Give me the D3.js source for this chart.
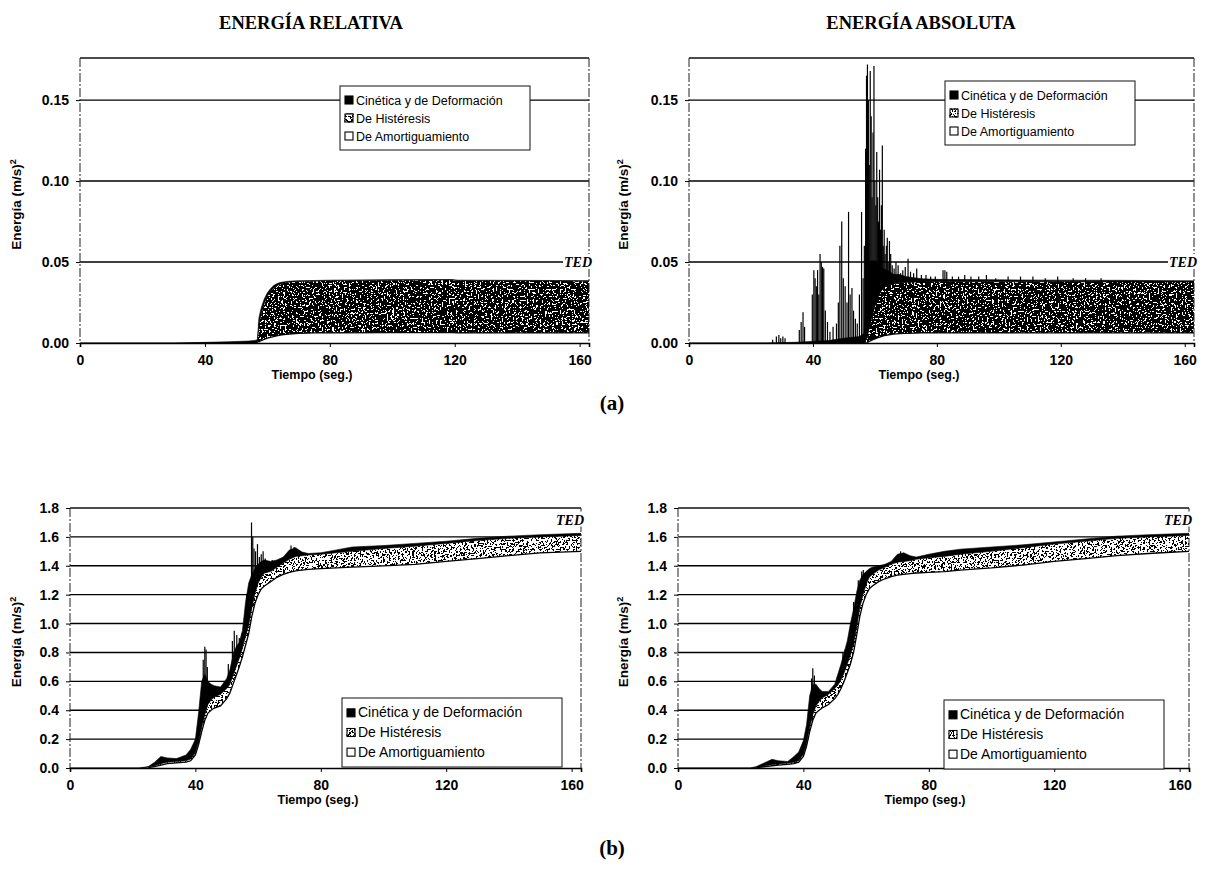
<!DOCTYPE html>
<html>
<head>
<meta charset="utf-8">
<script src="https://cdn.jsdelivr.net/npm/d3@7"></script>
<style>
  body { margin: 0; background: #fff; }
  svg { display: block; }
</style>
</head>
<body>
<svg id="fig" width="1223" height="888"></svg>
<script>
// ---------- shared tick labels and legend ----------
const xTicks = [0, 40, 80, 120, 160];
const yTicksA = [0, 0.05, 0.10, 0.15];
const yTicksB = [0, 0.2, 0.4, 0.6, 0.8, 1.0, 1.2, 1.4, 1.6, 1.8];
const seriesNames = ["Cinética y de Deformación", "De Histéresis", "De Amortiguamiento"];

// ---------- (a) energía relativa, (m/s)^2 ----------
const tRelA     = [0, 30, 40, 48, 54, 56, 56.8, 57.3, 58, 59, 60, 61, 62, 63, 64, 66, 68, 70, 75, 80, 100, 119, 121, 140, 163];
const relAmortA = [0, 0, 0, 0, 0, 0, 0, 0.0006, 0.0015, 0.0022, 0.003, 0.0035, 0.004, 0.0044, 0.0048, 0.0053, 0.0057, 0.006, 0.0062, 0.0063, 0.0064, 0.0064, 0.0062, 0.0062, 0.0062];
const relHistA  = [0, 0, 0, 0, 0, 0, 0, 0.011, 0.016, 0.022, 0.026, 0.028, 0.030, 0.031, 0.0315, 0.032, 0.032, 0.032, 0.032, 0.0322, 0.0324, 0.0325, 0.0323, 0.0322, 0.032];
const relCinA   = [0, 0, 0.0004, 0.0008, 0.0012, 0.0016, 0.002, 0.004, 0.004, 0.003, 0.002, 0.002, 0.0015, 0.0012, 0.001, 0.0007, 0.0006, 0.0005, 0.0004, 0.0003, 0.0003, 0.0003, 0.0003, 0.0003, 0.0003];

// ---------- (a) energía absoluta, (m/s)^2 ----------
const tAbsA     = [0, 25, 35, 45, 50, 55, 56.5, 57.5, 58, 59, 60, 61, 62, 63, 64, 66, 68, 70, 75, 80, 100, 120, 140, 163];
const absAmortA = [0, 0, 0, 0, 0, 0, 0, 0.0003, 0.0008, 0.0018, 0.0026, 0.0033, 0.004, 0.0045, 0.0049, 0.0055, 0.0058, 0.006, 0.0062, 0.0062, 0.0062, 0.0062, 0.0062, 0.0062];
const absHistA  = [0, 0, 0, 0, 0, 0, 0, 0.003, 0.007, 0.014, 0.02, 0.025, 0.028, 0.03, 0.031, 0.031, 0.0315, 0.0315, 0.0315, 0.0316, 0.0316, 0.0316, 0.0315, 0.0314];
const absCinA   = [0, 0, 0.0005, 0.0015, 0.003, 0.004, 0.006, 0.03, 0.04, 0.035, 0.028, 0.02, 0.015, 0.011, 0.009, 0.006, 0.005, 0.0035, 0.002, 0.0015, 0.0012, 0.001, 0.001, 0.0008];
// kinetic peaks [time (s), total energy]
const absPeaksA = [
  [27, 0.002], [28.2, 0.004], [29, 0.005], [29.6, 0.003], [30.3, 0.004], [31, 0.003],
  [35.6, 0.008], [36.2, 0.013], [36.8, 0.019], [37.3, 0.01],
  [39.8, 0.03], [40.3, 0.045], [40.7, 0.04], [41.1, 0.035], [41.5, 0.045], [41.9, 0.03],
  [42.3, 0.055], [42.7, 0.05], [43.1, 0.047], [43.5, 0.046], [44.0, 0.02], [44.7, 0.013],
  [45.5, 0.007], [46.5, 0.01], [47.6, 0.012], [48.2, 0.025], [48.7, 0.06], [49.3, 0.075],
  [49.8, 0.04], [50.4, 0.035], [51.0, 0.025], [51.5, 0.081], [52.0, 0.03], [52.6, 0.034],
  [53.1, 0.02], [53.7, 0.015], [54.3, 0.012], [55.0, 0.03], [55.7, 0.081], [56.2, 0.04],
  [56.6, 0.06], [57.0, 0.12], [57.3, 0.165], [57.6, 0.172], [57.9, 0.15], [58.2, 0.11],
  [58.5, 0.168], [58.8, 0.14], [59.1, 0.09], [59.4, 0.13], [59.7, 0.171], [60.0, 0.1],
  [60.3, 0.085], [60.6, 0.118], [60.9, 0.09], [61.2, 0.075], [61.5, 0.107], [61.8, 0.07],
  [62.1, 0.085], [62.4, 0.122], [62.7, 0.06], [63.0, 0.07], [63.3, 0.055], [63.7, 0.06],
  [64.0, 0.065], [64.3, 0.05], [64.7, 0.063], [65.1, 0.055], [65.6, 0.048], [66.2, 0.046],
  [66.8, 0.05], [67.5, 0.048], [68.3, 0.043], [69.0, 0.045], [69.8, 0.047], [70.7, 0.052],
  [71.5, 0.044], [72.5, 0.043], [73.5, 0.046], [75, 0.042], [76.5, 0.042], [78, 0.041],
  [79.5, 0.041], [82.0, 0.045], [82.6, 0.045], [83.2, 0.044], [85, 0.041], [87, 0.041],
  [89, 0.042], [91, 0.041], [93.5, 0.041], [96, 0.042], [99, 0.04], [103, 0.041],
  [107, 0.041], [111, 0.041], [115, 0.04], [119, 0.041], [124, 0.04], [128, 0.04], [133, 0.04]
];

// ---------- (b) energía relativa, (m/s)^2 ----------
const tRelB     = [0, 22, 25, 27, 29, 31, 34, 37, 38.5, 40, 41, 42, 43, 44, 45, 46, 48, 50, 51, 52, 53, 54, 55, 56, 57, 58, 59, 60, 61, 62, 64, 66, 68, 70, 72, 74, 76, 80, 85, 90, 100, 110, 120, 130, 140, 150, 163];
const relAmortB = [0, 0, 0.003, 0.01, 0.02, 0.03, 0.035, 0.04, 0.05, 0.09, 0.16, 0.25, 0.33, 0.38, 0.40, 0.415, 0.43, 0.48, 0.52, 0.58, 0.64, 0.70, 0.77, 0.85, 0.93, 1.05, 1.14, 1.20, 1.24, 1.26, 1.29, 1.32, 1.34, 1.355, 1.365, 1.37, 1.375, 1.38, 1.385, 1.39, 1.40, 1.41, 1.43, 1.45, 1.47, 1.49, 1.50];
const relHistB  = [0, 0, 0.002, 0.005, 0.01, 0.01, 0.01, 0.01, 0.012, 0.015, 0.02, 0.03, 0.04, 0.06, 0.07, 0.075, 0.08, 0.07, 0.06, 0.06, 0.06, 0.06, 0.06, 0.06, 0.06, 0.06, 0.07, 0.08, 0.08, 0.09, 0.07, 0.07, 0.08, 0.09, 0.10, 0.10, 0.10, 0.10, 0.105, 0.11, 0.12, 0.125, 0.125, 0.125, 0.12, 0.11, 0.11];
const relCinB   = [0, 0, 0.005, 0.025, 0.05, 0.03, 0.02, 0.04, 0.068, 0.095, 0.20, 0.32, 0.28, 0.16, 0.11, 0.08, 0.05, 0.07, 0.10, 0.14, 0.14, 0.11, 0.12, 0.24, 0.29, 0.23, 0.17, 0.13, 0.11, 0.09, 0.07, 0.05, 0.04, 0.065, 0.06, 0.025, 0.01, 0.01, 0.02, 0.03, 0.02, 0.02, 0.015, 0.015, 0.015, 0.015, 0.015];
const relPeaksB = [
  [42.5, 0.75], [43.0, 0.84], [43.4, 0.82], [43.8, 0.70], [50.5, 0.72], [51.8, 0.88],
  [52.4, 0.95], [53.2, 0.92], [54.0, 0.90], [54.8, 0.93], [56.4, 1.20], [57.0, 1.25],
  [57.9, 1.70], [58.3, 1.60], [58.7, 1.52], [59.2, 1.50], [59.8, 1.55], [60.4, 1.46],
  [61.0, 1.48], [61.6, 1.50], [62.3, 1.45], [63.0, 1.42], [64.5, 1.44], [70.5, 1.54], [71.5, 1.53]
];

// ---------- (b) energía absoluta, (m/s)^2 ----------
const tAbsB     = [0, 23, 25, 28, 30, 32, 35, 37, 38.5, 40, 41, 42, 43, 44, 45, 46, 48, 50, 51, 52, 53, 54, 55, 56, 57, 58, 59, 60, 61, 62, 64, 66, 68, 70, 72, 74, 76, 80, 85, 90, 100, 110, 120, 130, 140, 150, 163];
const absAmortB = [0, 0, 0.002, 0.01, 0.015, 0.02, 0.025, 0.03, 0.04, 0.08, 0.15, 0.25, 0.33, 0.38, 0.40, 0.415, 0.44, 0.48, 0.51, 0.55, 0.60, 0.66, 0.72, 0.80, 0.92, 1.05, 1.14, 1.20, 1.24, 1.26, 1.29, 1.31, 1.325, 1.335, 1.34, 1.345, 1.35, 1.355, 1.36, 1.37, 1.385, 1.405, 1.43, 1.45, 1.47, 1.485, 1.50];
const absHistB  = [0, 0, 0.002, 0.005, 0.008, 0.008, 0.008, 0.01, 0.01, 0.015, 0.02, 0.03, 0.04, 0.05, 0.06, 0.07, 0.07, 0.07, 0.065, 0.06, 0.06, 0.06, 0.06, 0.06, 0.06, 0.06, 0.06, 0.07, 0.08, 0.08, 0.08, 0.08, 0.085, 0.09, 0.09, 0.09, 0.095, 0.10, 0.105, 0.11, 0.115, 0.12, 0.12, 0.12, 0.12, 0.115, 0.11];
const absCinB   = [0, 0, 0.006, 0.025, 0.037, 0.022, 0.012, 0.04, 0.06, 0.095, 0.13, 0.22, 0.21, 0.15, 0.09, 0.045, 0.02, 0.03, 0.075, 0.11, 0.14, 0.16, 0.22, 0.24, 0.24, 0.19, 0.14, 0.09, 0.06, 0.05, 0.03, 0.02, 0.02, 0.055, 0.06, 0.035, 0.015, 0.025, 0.035, 0.035, 0.03, 0.02, 0.015, 0.015, 0.015, 0.015, 0.015];
const absPeaksB = [
  [42.6, 0.62], [43.0, 0.69], [43.5, 0.64], [52.6, 0.80], [53.3, 0.82], [56.0, 1.15],
  [57.5, 1.30], [58.6, 1.36], [59.1, 1.37], [59.8, 1.33], [61.0, 1.35], [71.0, 1.50]
];

// ---------- panel layout ----------
const panels = [
  { t: tRelA, A: relAmortA, H: relHistA, K: relCinA, peaks: [], yTicks: yTicksA, fmt: d3.format(".2f"),
    x0: 80, x1: 589, yT: 58, yB: 343, yMax: 0.176, tedAt: 0.05, tex: "speckDark",
    legend: { x: 340, y: 86, w: 190, h: 64, fs: 12.5 }, ylabX: 17, tiempoX: 312 },
  { t: tAbsA, A: absAmortA, H: absHistA, K: absCinA, peaks: absPeaksA, yTicks: yTicksA, fmt: d3.format(".2f"),
    x0: 689, x1: 1194, yT: 58, yB: 343, yMax: 0.176, tedAt: 0.05, tex: "speckDark",
    legend: { x: 945, y: 81, w: 190, h: 64, fs: 12.5 }, ylabX: 624, tiempoX: 919 },
  { t: tRelB, A: relAmortB, H: relHistB, K: relCinB, peaks: relPeaksB, yTicks: yTicksB, fmt: d3.format(".1f"),
    x0: 70, x1: 581, yT: 508, yB: 768, yMax: 1.8, tedAt: 1.72, tex: "speckLight",
    legend: { x: 342, y: 698, w: 220, h: 69, fs: 14 }, ylabX: 17, tiempoX: 318 },
  { t: tAbsB, A: absAmortB, H: absHistB, K: absCinB, peaks: absPeaksB, yTicks: yTicksB, fmt: d3.format(".1f"),
    x0: 678, x1: 1189, yT: 508, yB: 768, yMax: 1.8, tedAt: 1.72, tex: "speckLight",
    legend: { x: 944, y: 700, w: 220, h: 69, fs: 14 }, ylabX: 624, tiempoX: 925 }
];
const xMax = 163;

const svg = d3.select("#fig");
const defs = svg.append("defs");

// grainy fill used for the hysteresis band: black grains over a white fill
function speckle(id, cut, freq, seed) {
  const f = defs.append("filter").attr("id", id)
    .attr("filterUnits", "userSpaceOnUse").attr("x", 0).attr("y", 0)
    .attr("width", 1223).attr("height", 888)
    .attr("color-interpolation-filters", "sRGB");
  f.append("feTurbulence").attr("type", "fractalNoise").attr("baseFrequency", freq)
    .attr("numOctaves", 2).attr("seed", seed).attr("result", "n");
  f.append("feColorMatrix").attr("in", "n").attr("type", "matrix")
    .attr("values", "0 0 0 0 0  0 0 0 0 0  0 0 0 0 0  1 0 0 0 0").attr("result", "a");
  const steps = 40;
  const table = d3.range(steps).map(i => (i / steps < cut ? 0 : 1)).join(" ");
  f.append("feComponentTransfer").attr("in", "a").attr("result", "dots")
    .append("feFuncA").attr("type", "discrete").attr("tableValues", table);
  f.append("feComposite").attr("in", "dots").attr("in2", "SourceGraphic")
    .attr("operator", "in").attr("result", "grain");
  const m = f.append("feMerge");
  m.append("feMergeNode").attr("in", "SourceGraphic");
  m.append("feMergeNode").attr("in", "grain");
}
speckle("speckDark", 0.40, 0.55, 4);
speckle("speckLight", 0.54, 0.55, 9);

const sans = "'Liberation Sans', Arial, sans-serif";
const serif = "'Liberation Serif', 'Times New Roman', serif";

panels.forEach((p, i) => {
  const x = d3.scaleLinear().domain([0, xMax]).range([p.x0, p.x1]);
  const y = d3.scaleLinear().domain([0, p.yMax]).range([p.yB, p.yT]);
  const g = svg.append("g");

  const clipId = "clip" + i;
  defs.append("clipPath").attr("id", clipId).append("rect")
    .attr("x", p.x0).attr("y", p.yT - 1).attr("width", p.x1 - p.x0).attr("height", p.yB - p.yT + 1);

  // horizontal grid lines
  g.append("g").selectAll("line").data(p.yTicks.filter(v => v > 0 && v < p.yMax - 1e-9))
    .join("line")
    .attr("x1", p.x0).attr("x2", p.x1)
    .attr("y1", d => y(d)).attr("y2", d => y(d))
    .attr("stroke", "#000").attr("stroke-width", 1.4);

  const body = g.append("g").attr("clip-path", `url(#${clipId})`);

  // kinetic peaks
  body.append("g").selectAll("line").data(p.peaks).join("line")
    .attr("x1", d => x(d[0])).attr("x2", d => x(d[0]))
    .attr("y1", y(0)).attr("y2", d => y(d[1]))
    .attr("stroke", "#000").attr("stroke-width", 1.2);

  // stacked components
  const rows = p.t.map((t, k) => {
    const a = p.A[k], h = p.H[k], c = p.K[k];
    return { t, a, ah: a + h, ahk: a + h + c };
  });
  const area = (lo, hi) => d3.area().x(d => x(d.t)).y0(d => y(lo(d))).y1(d => y(hi(d)));

  body.append("path").datum(rows).attr("d", area(() => 0, d => d.a))
    .attr("fill", "#fff");
  body.append("path").datum(rows).attr("d", area(d => d.a, d => d.ah))
    .attr("fill", "#fff").attr("filter", `url(#${p.tex})`);
  body.append("path").datum(rows).attr("d", area(d => d.ah, d => d.ahk))
    .attr("fill", "#000").attr("stroke", "#000").attr("stroke-width", 0.6);
  body.append("path").datum(rows.filter(d => d.a > 0 || d.ah > 0))
    .attr("d", d3.line().x(d => x(d.t)).y(d => y(d.a)))
    .attr("fill", "none").attr("stroke", "#000").attr("stroke-width", 1.3);

  // frame: solid top and baseline, broken sides
  g.append("line").attr("x1", p.x0).attr("x2", p.x1).attr("y1", p.yT).attr("y2", p.yT)
    .attr("stroke", "#111").attr("stroke-width", 1.4);
  [p.x0, p.x1].forEach(xx => {
    g.append("line").attr("x1", xx).attr("x2", xx).attr("y1", p.yT).attr("y2", p.yB)
      .attr("stroke", "#222").attr("stroke-width", 1).attr("stroke-dasharray", "9 2 2 2");
  });

  // axes
  const ax = g.append("g").attr("transform", `translate(0,${p.yB})`)
    .call(d3.axisBottom(x).tickValues(xTicks).tickSize(4).tickPadding(8).tickFormat(d3.format("d")));
  ax.select(".domain").attr("stroke-width", 1.6);
  ax.selectAll("text").attr("font-family", sans).attr("font-weight", "bold")
    .attr("font-size", 14).attr("fill", "#000");

  const ay = g.append("g").attr("transform", `translate(${p.x0},0)`)
    .call(d3.axisLeft(y).tickValues(p.yTicks).tickSize(4).tickPadding(7).tickFormat(p.fmt));
  ay.select(".domain").remove();
  ay.selectAll("text").attr("font-family", sans).attr("font-weight", "bold")
    .attr("font-size", 14).attr("fill", "#000");

  // axis titles
  g.append("text").attr("x", p.tiempoX).attr("y", p.yB + 36)
    .attr("text-anchor", "middle").attr("font-family", sans).attr("font-weight", "bold")
    .attr("font-size", 12.5).text("Tiempo (seg.)");
  const yl = g.append("text")
    .attr("transform", `translate(${p.ylabX + 4},${(p.yT + p.yB) / 2 + 4}) rotate(-90)`)
    .attr("text-anchor", "middle").attr("font-family", sans).attr("font-weight", "bold")
    .attr("font-size", 13.5);
  yl.append("tspan").text("Energía (m/s)");
  yl.append("tspan").attr("font-size", 9).attr("dy", -5).text("2");

  // TED marker
  const tedY = y(p.tedAt);
  g.append("rect").attr("x", p.x1 - 26).attr("y", tedY - 8).attr("width", 38).attr("height", 15)
    .attr("fill", "#fff");
  g.append("text").attr("x", p.x1 + 3).attr("y", tedY + 5).attr("text-anchor", "end")
    .attr("font-family", serif)
    .attr("font-weight", "bold").attr("font-style", "italic").attr("font-size", 14).text("TED");

  // legend
  const L = p.legend;
  const lg = g.append("g");
  lg.append("rect").attr("x", L.x).attr("y", L.y).attr("width", L.w).attr("height", L.h)
    .attr("fill", "#fff").attr("stroke", "#111").attr("stroke-width", 1);
  const step = (L.h - 10) / 3;
  seriesNames.forEach((name, k) => {
    const cy = L.y + 5 + step * (k + 0.5);
    const sw = lg.append("rect").attr("x", L.x + 5).attr("y", cy - 4).attr("width", 8).attr("height", 8)
      .attr("stroke", "#000").attr("stroke-width", 1.1);
    if (k === 0) sw.attr("fill", "#000");
    else if (k === 1) sw.attr("fill", "#fff").attr("filter", "url(#speckLight)");
    else sw.attr("fill", "#fff");
    lg.append("text").attr("x", L.x + 16).attr("y", cy + 4.5)
      .attr("font-family", sans).attr("font-size", L.fs).text(name);
  });
});

// headings
svg.append("text").attr("x", 311).attr("y", 29).attr("text-anchor", "middle")
  .attr("font-family", serif).attr("font-weight", "bold").attr("font-size", 18.5).text("ENERGÍA RELATIVA");
svg.append("text").attr("x", 921).attr("y", 29).attr("text-anchor", "middle")
  .attr("font-family", serif).attr("font-weight", "bold").attr("font-size", 18.5).text("ENERGÍA ABSOLUTA");
svg.append("text").attr("x", 612).attr("y", 410).attr("text-anchor", "middle")
  .attr("font-family", serif).attr("font-weight", "bold").attr("font-size", 21).text("(a)");
svg.append("text").attr("x", 612).attr("y", 855).attr("text-anchor", "middle")
  .attr("font-family", serif).attr("font-weight", "bold").attr("font-size", 21).text("(b)");
</script>
</body>
</html>
